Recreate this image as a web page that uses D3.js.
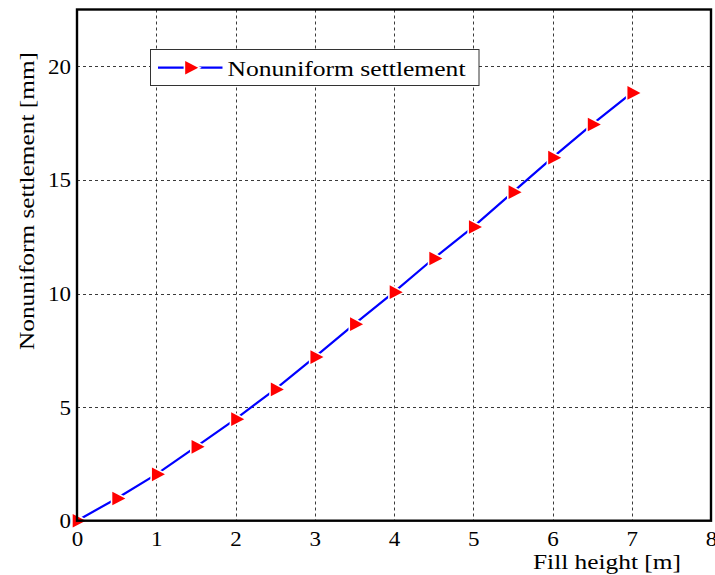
<!DOCTYPE html>
<html>
<head>
<meta charset="utf-8">
<script src="https://cdn.jsdelivr.net/npm/d3@7"></script>
<style>
  html, body { margin: 0; padding: 0; background: #fff; }
  svg { display: block; }
</style>
</head>
<body>
<svg id="chart" width="715" height="575"></svg>
<script>
// Fill height [m] and the resulting nonuniform settlement [mm]
const fillHeight = [0, 0.5, 1, 1.5, 2, 2.5, 3, 3.5, 4, 4.5, 5, 5.5, 6, 6.5, 7];
const settlement = [0, 0.98, 2.04, 3.25, 4.47, 5.78, 7.2, 8.65, 10.06, 11.54, 12.93, 14.46, 15.98, 17.44, 18.83];
const xTicks = [0, 1, 2, 3, 4, 5, 6, 7, 8];
const yTicks = [0, 5, 10, 15, 20];
const seriesName = "Nonuniform settlement";
const xLabel = "Fill height [m]";
const yLabel = "Nonuniform settlement [mm]";

const FONT = '"Liberation Serif", "Times New Roman", serif';
const svg = d3.select("#chart");
const plot = { left: 77, right: 711, top: 9.5, bottom: 520.7 };

const x = d3.scaleLinear().domain([0, 8]).range([plot.left, plot.right]);
const y = d3.scaleLinear().domain([0, 22.5]).range([plot.bottom, plot.top]);

// grid
const grid = svg.append("g").attr("stroke", "#3a3a3a").attr("stroke-width", 1).attr("stroke-dasharray", "3,3");
grid.selectAll("line.gx").data(xTicks.filter(d => d > 0 && d < 8)).join("line")
  .attr("x1", d => Math.round(x(d)) + 0.5).attr("x2", d => Math.round(x(d)) + 0.5)
  .attr("y1", plot.top).attr("y2", plot.bottom);
grid.selectAll("line.gy").data(yTicks.filter(d => d > 0)).join("line")
  .attr("y1", d => Math.round(y(d)) + 0.5).attr("y2", d => Math.round(y(d)) + 0.5)
  .attr("x1", plot.left).attr("x2", plot.right);

// axes (labels only, ticks hidden)
const xAxis = d3.axisBottom(x).tickValues(xTicks).tickFormat(d3.format("d")).tickSize(0).tickPadding(10);
const yAxis = d3.axisLeft(y).tickValues(yTicks).tickFormat(d3.format("d")).tickSize(0).tickPadding(6);
const gx = svg.append("g").attr("transform", `translate(0,${plot.bottom})`).call(xAxis);
const gy = svg.append("g").attr("transform", `translate(${plot.left},0)`).call(yAxis);
[gx, gy].forEach(g => {
  g.select(".domain").remove();
  g.selectAll("text").style("font-family", FONT).style("font-size", "22px").attr("fill", "#000");
});
gx.selectAll("text").attr("textLength", d => d >= 10 ? null : 11.5).attr("lengthAdjust", "spacingAndGlyphs");
gy.selectAll("text").attr("textLength", d => d >= 10 ? 23 : 11.5).attr("lengthAdjust", "spacingAndGlyphs");

// series line
const line = d3.line().x((d, i) => x(fillHeight[i])).y(d => y(d));
svg.append("path").datum(settlement)
  .attr("d", line)
  .attr("fill", "none")
  .attr("stroke", "#0000ff")
  .attr("stroke-width", 2.2);

// right-pointing triangle markers, centroid on the data point
const tri = (cx, cy) => `M${cx - 4.3},${cy - 6.8}L${cx + 8.7},${cy}L${cx - 4.3},${cy + 6.8}Z`;
svg.append("g").selectAll("path").data(settlement).join("path")
  .attr("d", (d, i) => tri(x(fillHeight[i]), y(d)))
  .attr("fill", "#ff0000")
  .attr("stroke", "#fff").attr("stroke-width", 3.2)
  .style("paint-order", "stroke");

// frame
svg.append("rect")
  .attr("x", plot.left).attr("y", plot.top)
  .attr("width", plot.right - plot.left).attr("height", plot.bottom - plot.top)
  .attr("fill", "none").attr("stroke", "#000").attr("stroke-width", 2.4);

// legend
const lg = svg.append("g");
lg.append("rect").attr("x", 150.5).attr("y", 49.5).attr("width", 328.5).attr("height", 36)
  .attr("fill", "#fff").attr("stroke", "#333").attr("stroke-width", 1);
lg.append("line").attr("x1", 158).attr("x2", 222.5).attr("y1", 67.7).attr("y2", 67.7)
  .attr("stroke", "#0000ff").attr("stroke-width", 2.2);
lg.append("path").attr("d", tri(189.5, 67.7)).attr("fill", "#ff0000")
  .attr("stroke", "#fff").attr("stroke-width", 3.2).style("paint-order", "stroke");
lg.append("text").attr("x", 227.5).attr("y", 75.5)
  .style("font-family", FONT).style("font-size", "22px")
  .attr("textLength", 238).attr("lengthAdjust", "spacingAndGlyphs")
  .text(seriesName);

// axis titles
svg.append("text").attr("x", 533).attr("y", 569)
  .style("font-family", FONT).style("font-size", "22px")
  .attr("textLength", 148).attr("lengthAdjust", "spacingAndGlyphs")
  .text(xLabel);
svg.append("text")
  .attr("transform", "translate(34,350) rotate(-90)")
  .style("font-family", FONT).style("font-size", "22px")
  .attr("textLength", 298).attr("lengthAdjust", "spacingAndGlyphs")
  .text(yLabel);
</script>
</body>
</html>
